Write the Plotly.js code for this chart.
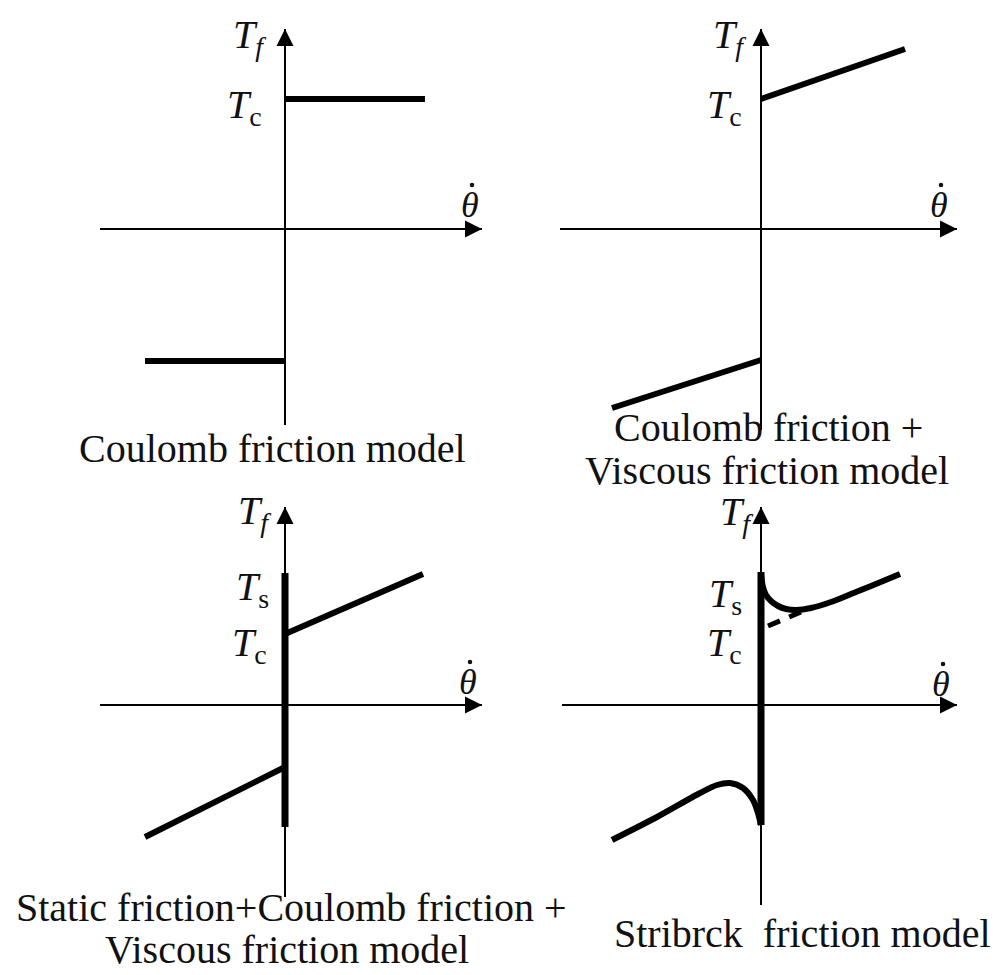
<!DOCTYPE html>
<html>
<head>
<meta charset="utf-8">
<script src="https://cdn.plot.ly/plotly-3.0.1.min.js"></script>
<style>
  body { margin: 0; }
  #chart svg text, #chart svg tspan { font-family: "Liberation Serif", "Times New Roman", serif !important; }
</style>
</head>
<body>
<div id="chart"></div>
<script>
// ---------- DATA (units: schematic torque / velocity, origin at axis crossing) ----------
// Panel 1: Coulomb friction
const p1PosX = [0, 1.40];
const p1PosY = [1.30, 1.30];
const p1NegX = [-1.40, 0];
const p1NegY = [-1.32, -1.32];
// Panel 2: Coulomb + viscous
const p2PosX = [0, 1.44];
const p2PosY = [1.30, 1.80];
const p2NegX = [-1.49, 0];
const p2NegY = [-1.79, -1.31];
// Panel 3: static + Coulomb + viscous
const p3StaticX = [0, 0];
const p3StaticY = [1.32, -1.22];
const p3PosX = [0, 1.38];
const p3PosY = [0.71, 1.31];
const p3NegX = [-1.40, 0];
const p3NegY = [-1.32, -0.62];
// Panel 4: Stribeck
const p4StaticX = [0, 0];
const p4StaticY = [1.33, -1.20];
const p4PosX = [0.00, 0.02, 0.05, 0.10, 0.17, 0.25, 0.35, 0.50, 0.70, 0.90, 1.10, 1.39];
const p4PosY = [1.31, 1.18, 1.10, 1.04, 0.99, 0.96, 0.95, 0.97, 1.03, 1.11, 1.19, 1.31];
const p4NegX = [-1.49, -1.04, -0.61, -0.44, -0.31, -0.18, -0.08, -0.03, 0.00];
const p4NegY = [-1.35, -1.12, -0.88, -0.80, -0.78, -0.83, -0.95, -1.08, -1.20];
const p4DashX = [0.07, 0.40];
const p4DashY = [0.79, 0.93];

// axis extents per panel [start, arrow tip]
const axisHoriz = [[-1.85, 1.97], [-2.01, 1.96], [-1.85, 1.97], [-1.99, 1.96]];
const axisVert  = [[-1.96, 2.00], [-2.01, 2.00], [-1.92, 1.98], [-2.00, 1.98]];

// texts
const yAxisLabel = '<i>T</i><sub><i>f</i></sub>';
const xAxisLabel = '<i>θ</i>';
const tcLabel = '<i>T</i><sub>c</sub>';
const tsLabel = '<i>T</i><sub>s</sub>';
const captions = [
  ['Coulomb friction model'],
  ['Coulomb friction +', 'Viscous friction model'],
  ['Static friction+Coulomb friction +', 'Viscous friction model'],
  ['Stribrck  friction model']
];
// tick-label levels on the T axis per panel
const tcLevel = [1.30, 1.30, 0.68, 0.68];
const tsLevel = [null, null, 1.22, 1.15];

// ---------- BUILD ----------
const FONT = 'Liberation Serif';
const INK = '#000';
const TXT = '#111';
const axIds = [['x', 'y'], ['x2', 'y2'], ['x3', 'y3'], ['x4', 'y4']];
const traces = [];

function line(xs, ys, k, width, extra) {
  traces.push(Object.assign({
    type: 'scatter', mode: 'lines', x: xs, y: ys,
    xaxis: axIds[k][0], yaxis: axIds[k][1],
    line: {color: INK, width: width}, hoverinfo: 'skip'
  }, extra || {}));
}

// label positions (data units relative to the axes)
const tfPos = [[-0.17, 1.92], [-0.13, 1.92], [-0.12, 1.92], [-0.06, 1.91]];
const thPos = [[1.85, 0.24], [1.78, 0.24], [1.83, 0.23], [1.80, 0.21]];
const tcX = [-0.21, -0.17, -0.16, -0.17];
const tsX = [null, null, -0.14, -0.17];

// axes with arrows, and the time-derivative dot of the theta label
for (let k = 0; k < 4; k++) {
  line([axisHoriz[k][0], axisHoriz[k][1]], [0, 0], k, 2);
  line([0, 0], [axisVert[k][0], axisVert[k][1]], k, 2);
  traces.push({
    type: 'scatter', mode: 'markers',
    x: [axisHoriz[k][1], 0], y: [0, axisVert[k][1]],
    xaxis: axIds[k][0], yaxis: axIds[k][1],
    marker: {symbol: ['arrow-right', 'arrow-up'], size: 17, color: INK, line: {width: 0}},
    hoverinfo: 'skip'
  });
  traces.push({
    type: 'scatter', mode: 'markers',
    x: [thPos[k][0] + 0.02], y: [thPos[k][1] + 0.20],
    xaxis: axIds[k][0], yaxis: axIds[k][1],
    marker: {symbol: 'circle', size: 4.5, color: TXT, line: {width: 0}},
    hoverinfo: 'skip'
  });
}

// model curves
line(p1PosX, p1PosY, 0, 6);
line(p1NegX, p1NegY, 0, 6);
line(p2PosX, p2PosY, 1, 6);
line(p2NegX, p2NegY, 1, 6);
line(p3StaticX, p3StaticY, 2, 7);
line(p3PosX, p3PosY, 2, 6);
line(p3NegX, p3NegY, 2, 6);
line(p4StaticX, p4StaticY, 3, 7);
line(p4PosX, p4PosY, 3, 6, {line: {color: INK, width: 6, shape: 'spline', smoothing: 0.8}});
line(p4NegX, p4NegY, 3, 6, {line: {color: INK, width: 6, shape: 'spline', smoothing: 0.8}});
line(p4DashX, p4DashY, 3, 5, {line: {color: INK, width: 5, dash: '13px,10px'}});

// annotations
const annotations = [];
function txt(k, x, y, text, size, xanchor, yanchor) {
  annotations.push({
    xref: axIds[k][0], yref: axIds[k][1], x: x, y: y, text: text,
    showarrow: false, xanchor: xanchor || 'center', yanchor: yanchor || 'middle',
    font: {family: FONT, size: size, color: TXT}
  });
}
for (let k = 0; k < 4; k++) {
  txt(k, tfPos[k][0], tfPos[k][1], yAxisLabel, 40, 'right');
  txt(k, thPos[k][0], thPos[k][1], xAxisLabel, 36, 'center');
  txt(k, tcX[k], tcLevel[k] - 0.08, tcLabel, 40, 'right');
  if (tsLevel[k] !== null) txt(k, tsX[k], tsLevel[k] - 0.06, tsLabel, 40, 'right');
}
// captions
const capPos = [
  [[-0.13, -2.19]],
  [[0.07, -1.98], [0.06, -2.41]],
  [[0.06, -2.02], [0.02, -2.69]],
  [[0.41, -2.28]]
];
const capAnchor = [['middle'], ['middle', 'middle'], ['middle', 'bottom'], ['middle']];
for (let k = 0; k < 4; k++) {
  captions[k].forEach((c, i) => txt(k, capPos[k][i][0], capPos[k][i][1], c, 40, 'center', capAnchor[k][i]));
}

function ax(domain, range) {
  return {domain: domain, range: range, visible: false, fixedrange: true, showgrid: false, zeroline: false};
}
const layout = {
  width: 998, height: 975,
  font: {family: FONT, color: TXT},
  margin: {l: 0, r: 0, t: 0, b: 0, pad: 0},
  paper_bgcolor: '#fff', plot_bgcolor: 'rgba(0,0,0,0)',
  showlegend: false,
  xaxis:  Object.assign(ax([0, 0.5], [-2.85, 2.14]), {anchor: 'y'}),
  yaxis:  Object.assign(ax([0.5, 1], [-2.585, 2.29]), {anchor: 'x'}),
  xaxis2: Object.assign(ax([0.5, 1], [-2.62, 2.37]), {anchor: 'y2'}),
  yaxis2: Object.assign(ax([0.5, 1], [-2.585, 2.29]), {anchor: 'x2'}),
  xaxis3: Object.assign(ax([0, 0.5], [-2.85, 2.14]), {anchor: 'y3'}),
  yaxis3: Object.assign(ax([0, 0.5], [-2.70, 2.175]), {anchor: 'x3'}),
  xaxis4: Object.assign(ax([0.5, 1], [-2.62, 2.37]), {anchor: 'y4'}),
  yaxis4: Object.assign(ax([0, 0.5], [-2.70, 2.175]), {anchor: 'x4'}),
  annotations: annotations
};
Plotly.newPlot('chart', traces, layout, {displayModeBar: false});
</script>
</body>
</html>
